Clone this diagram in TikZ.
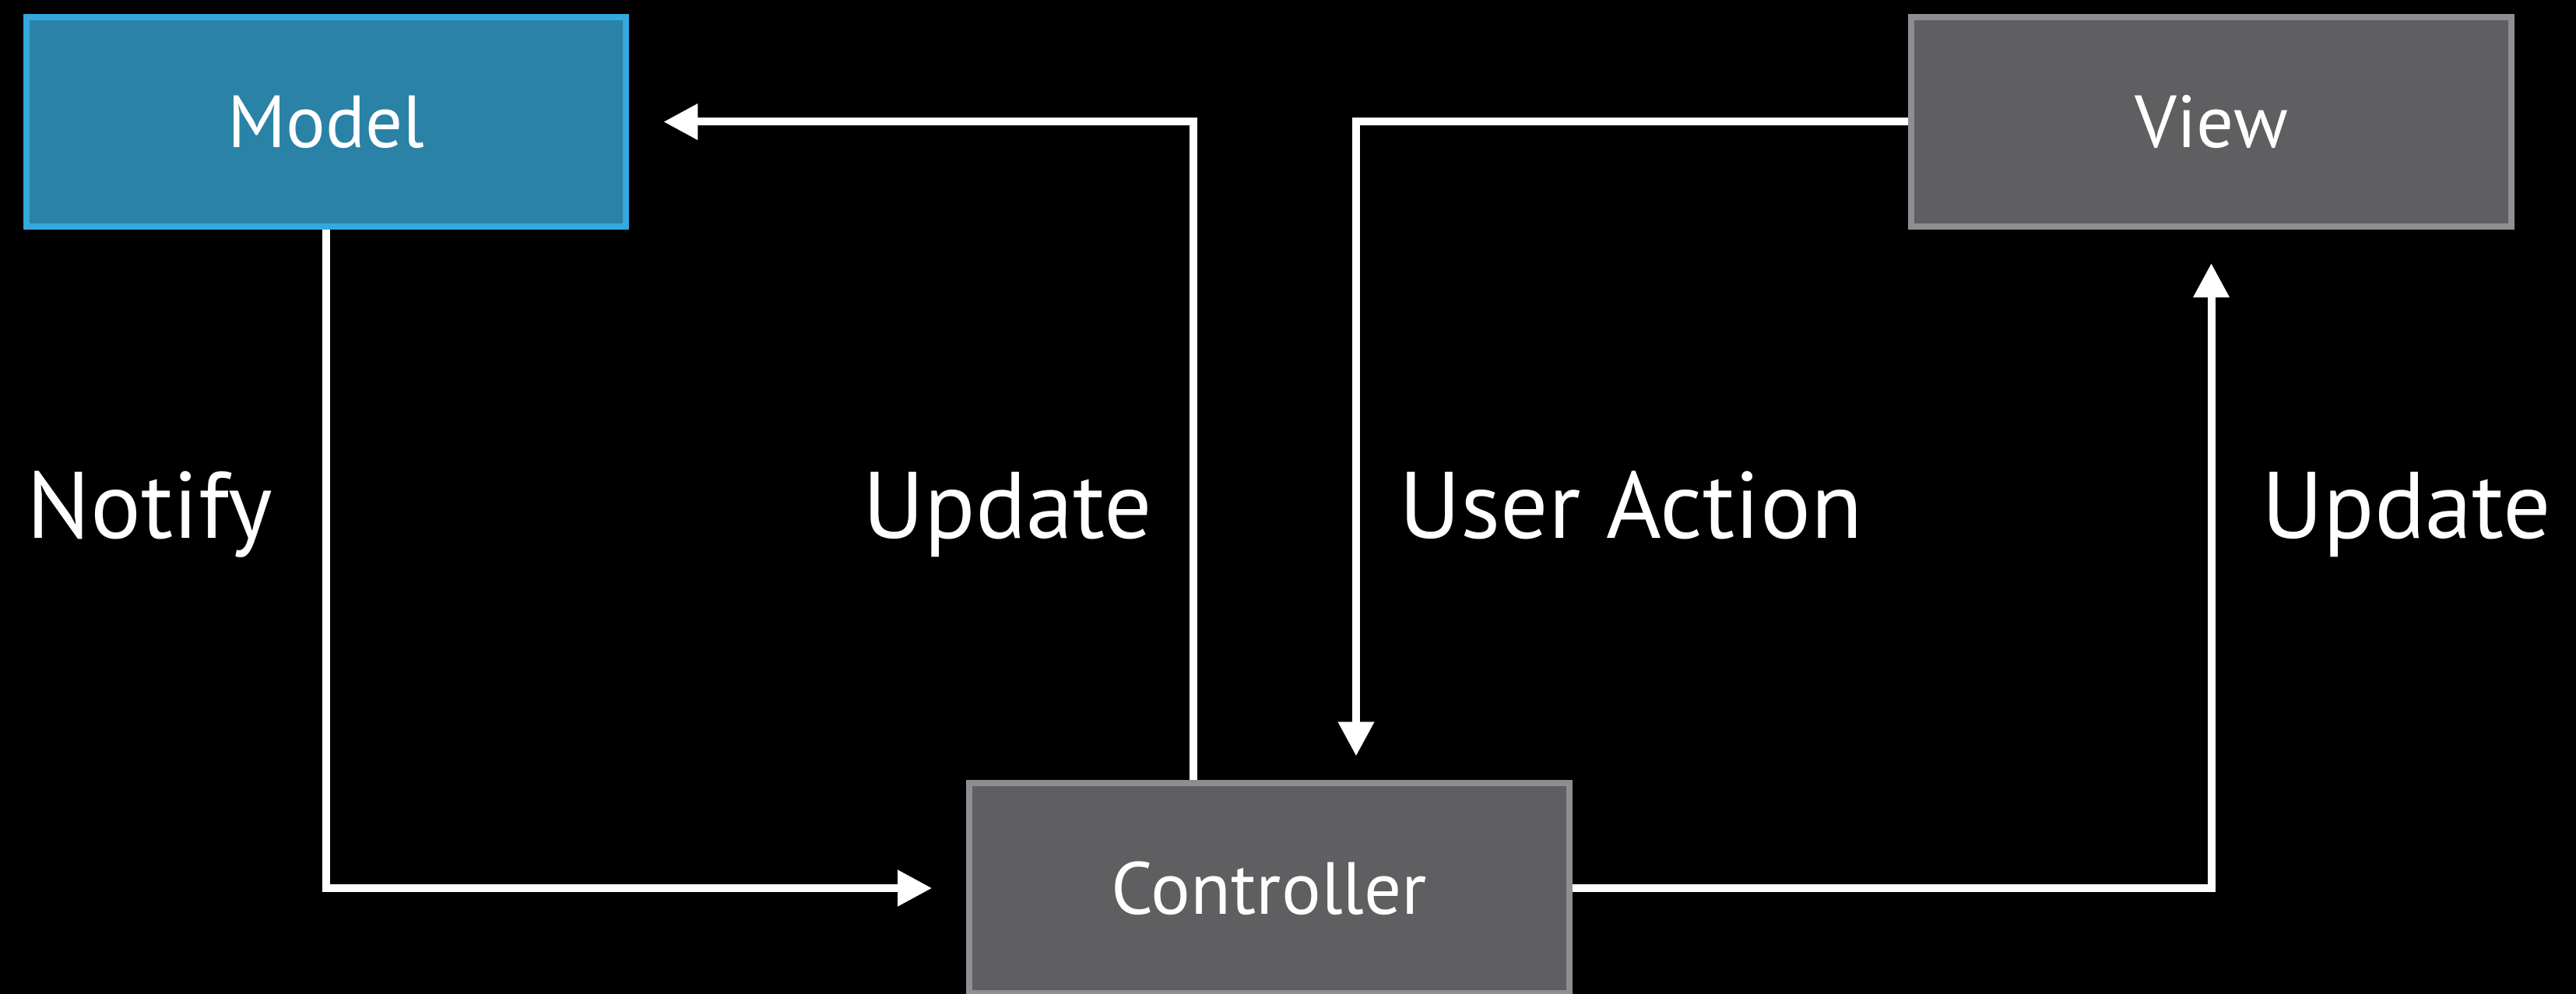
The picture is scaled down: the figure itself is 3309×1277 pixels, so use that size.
\documentclass[tikz,border=0pt]{standalone}
\usepackage{fontspec}
\setmainfont{PT Sans}
\usepackage{tikz}
\usetikzlibrary{positioning, arrows.meta, calc, backgrounds}

\definecolor{modelfill}{HTML}{2A82A6}
\definecolor{modeledge}{HTML}{34A9DD}
\definecolor{greyfill}{HTML}{5F5F61}
\definecolor{greyedge}{HTML}{8E8E92}

\begin{document}
\begin{tikzpicture}[
    x=0.01cm, y=-0.01cm,
    every node/.style={text=white},
    box/.style={rectangle, draw=#1, line width=0.08cm, minimum width=7.7cm, minimum height=2.69cm,
                inner sep=0pt, font=\fontsize{27}{32}\selectfont},
    modelbox/.style={box=modeledge, fill=modelfill},
    greybox/.style={box=greyedge, fill=greyfill},
    flow/.style={-{Triangle[length=0.44cm, width=0.44cm]}, white, line width=0.1cm},
    lbl/.style={anchor=base west, inner sep=0pt, font=\fontsize{34.5}{40}\selectfont},
]

% ---------- canvas ----------
\useasboundingbox (0,0) rectangle (3309,1277);

% ---------- boxes ----------
\node[modelbox] (model) at (419,156.5) {Model};
\node[greybox] (view) at (2840.5,156.5) {View};
\node[greybox] (ctrl) at (1630.5,1141) {Controller};

% bend columns of the two middle connectors
\coordinate (colupd) at (1533,0);
\coordinate (colact) at (1742,0);

% ---------- connectors ----------
\begin{scope}[on background layer]
\fill[black] (0,0) rectangle (3309,1277);
\draw[flow, shorten >=0.44cm] (model.south) |- (ctrl.west);
\draw[flow, shorten >=0.44cm] (ctrl.north -| colupd) |- (model.east);
\draw[flow, shorten >=0.31cm] (view.west) -| (ctrl.north -| colact);
\draw[flow, shorten >=0.43cm] (ctrl.east) -| (view.south);
\end{scope}

% ---------- labels ----------
\node[lbl] (lblnotify) at (34,692) {Notify};
\node[lbl] (lblupdm) at (1108,692) {Update};
\node[lbl] (lblact) at (1797,692) {User Action};
\node[lbl] (lblupdv) at (2905,692) {Update};

\end{tikzpicture}
\end{document}
